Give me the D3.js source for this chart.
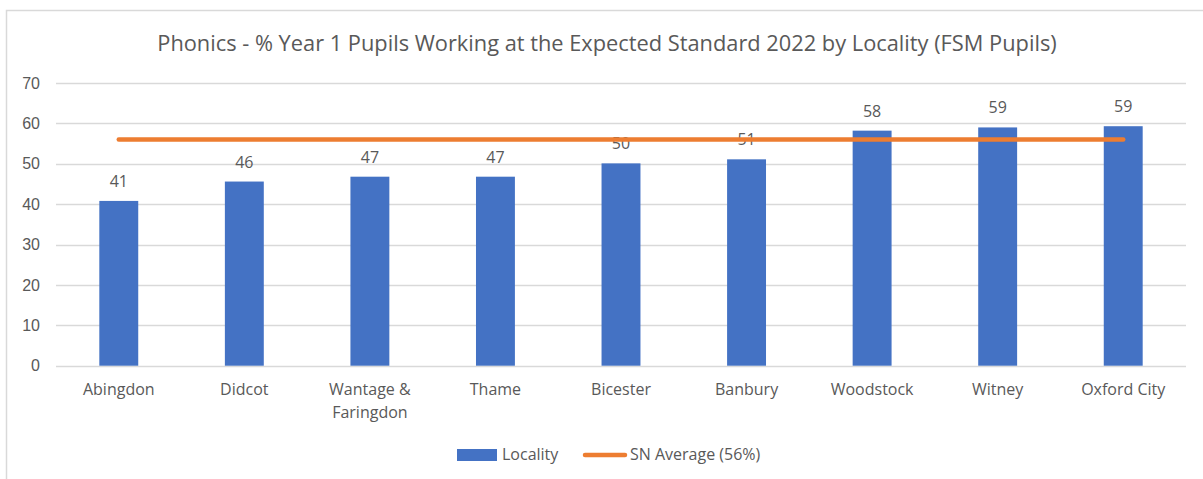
<!DOCTYPE html>
<html>
<head>
<meta charset="utf-8">
<script src="https://cdn.jsdelivr.net/npm/d3@7"></script>
<style>
  body { margin: 0; background: #fff; }
  svg { font-family: "Open Sans", Lato, sans-serif; }
  .tick text { fill: #595959; }
</style>
</head>
<body>
<svg id="chart" width="1203" height="479"></svg>
<script>
const localities = ['Abingdon', 'Didcot', 'Wantage & Faringdon', 'Thame', 'Bicester',
  'Banbury', 'Woodstock', 'Witney', 'Oxford City'];
const values = [40.8, 45.6, 46.8, 46.8, 50.1, 51.1, 58.2, 59.0, 59.3];
const snAverage = 56;
const yTicks = [0, 10, 20, 30, 40, 50, 60, 70];
const title = 'Phonics - % Year 1 Pupils Working at the Expected Standard 2022 by Locality (FSM Pupils)';

const svg = d3.select('#chart');
const width = 1203, height = 479;
const margin = {top: 83, right: 17, bottom: 113, left: 56};

const textColor = '#595959';
const barColor = '#4472c4';
const lineColor = '#ed7d31';
const fs = '16px';

// outer chart frame (left + top edges visible)
svg.append('path')
  .attr('d', `M6.5,${height} V10.5 H${width}`)
  .attr('fill', 'none')
  .attr('stroke', '#d9d9d9')
  .attr('stroke-width', 1.5);

const x = d3.scaleBand()
  .domain(localities)
  .range([margin.left, width - margin.right])
  .paddingInner(0.69)
  .paddingOuter(0.345);

const y = d3.scaleLinear()
  .domain([0, 70])
  .range([height - margin.bottom - 0.3, margin.top]);

svg.append('text')
  .attr('x', 607)
  .attr('y', 51)
  .attr('text-anchor', 'middle')
  .attr('fill', textColor)
  .style('font-size', '21.8px')
  .text(title);

// gridlines
svg.append('g')
  .selectAll('line')
  .data(yTicks)
  .join('line')
    .attr('x1', margin.left)
    .attr('x2', width - margin.right)
    .attr('y1', d => Math.round(y(d)) + 0.5)
    .attr('y2', d => Math.round(y(d)) + 0.5)
    .attr('stroke', '#d9d9d9')
    .attr('stroke-width', 1.5);

// y axis labels
svg.append('g')
  .attr('transform', `translate(${margin.left - 16},0)`)
  .call(d3.axisLeft(y).tickValues(yTicks).tickSize(0).tickPadding(0))
  .call(g => g.select('.domain').remove())
  .call(g => g.selectAll('text').style('font-size', fs).attr('fill', textColor));

// bars
svg.append('g')
  .selectAll('rect')
  .data(values)
  .join('rect')
    .attr('x', (d, i) => x(localities[i]))
    .attr('width', x.bandwidth())
    .attr('y', d => y(d))
    .attr('height', d => y(0) - y(d))
    .attr('fill', barColor);

// value labels
svg.append('g')
  .selectAll('text')
  .data(values)
  .join('text')
    .attr('x', (d, i) => x(localities[i]) + x.bandwidth() / 2)
    .attr('y', d => y(d) - 14)
    .attr('text-anchor', 'middle')
    .attr('fill', textColor)
    .style('font-size', fs)
    .text(d => Math.round(d));

// SN average line
const cx = d => x(d) + x.bandwidth() / 2;
svg.append('line')
  .attr('x1', cx(localities[0]))
  .attr('x2', cx(localities[localities.length - 1]))
  .attr('y1', y(snAverage))
  .attr('y2', y(snAverage))
  .attr('stroke', lineColor)
  .attr('stroke-width', 4.5)
  .attr('stroke-linecap', 'round');

// category labels (wrapped)
const xl = svg.append('g')
  .selectAll('text')
  .data(localities)
  .join('text')
    .attr('x', d => cx(d))
    .attr('y', 395)
    .attr('text-anchor', 'middle')
    .attr('fill', textColor)
    .style('font-size', fs);
xl.each(function(d) {
  const parts = d === 'Wantage & Faringdon' ? ['Wantage &', 'Faringdon'] : [d];
  d3.select(this).selectAll('tspan')
    .data(parts)
    .join('tspan')
      .attr('x', cx(d))
      .attr('dy', (p, i) => i ? 23 : 0)
      .text(p => p);
});

// legend
const legend = svg.append('g').style('font-size', fs);
legend.append('rect')
  .attr('x', 457).attr('y', 449).attr('width', 40).attr('height', 12)
  .attr('fill', barColor);
legend.append('text')
  .attr('x', 502).attr('y', 460).attr('fill', textColor).text('Locality');
legend.append('line')
  .attr('x1', 585).attr('x2', 625).attr('y1', 455).attr('y2', 455)
  .attr('stroke', lineColor).attr('stroke-width', 4.5).attr('stroke-linecap', 'round');
legend.append('text')
  .attr('x', 630).attr('y', 460).attr('fill', textColor).text('SN Average (56%)');
</script>
</body>
</html>
